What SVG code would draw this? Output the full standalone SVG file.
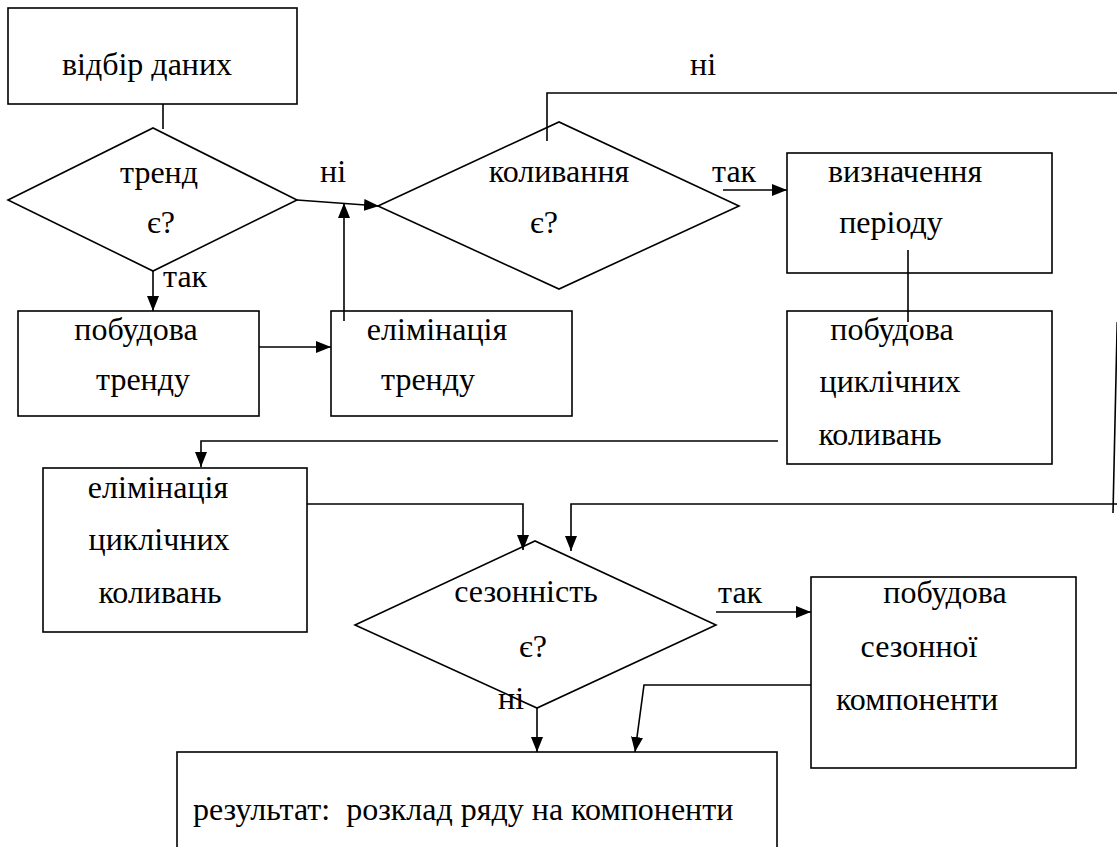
<svg xmlns="http://www.w3.org/2000/svg" width="1117" height="847" viewBox="0 0 1117 847">
<style>
.box{fill:#fff;stroke:#000;stroke-width:1.6}
.ln{fill:none;stroke:#000;stroke-width:1.6}
.c{text-anchor:middle}
</style>
<defs>
<marker id="ah" markerUnits="userSpaceOnUse" markerWidth="16" markerHeight="14" refX="15" refY="7" orient="auto" viewBox="0 0 16 14">
<path d="M0,1 L15,7 L0,13 Z" fill="#000"/>
</marker>
</defs>
<rect width="1117" height="847" fill="#fff"/>
<g font-family="Liberation Serif" font-size="32" fill="#000">
<g id="n1"><rect class="box" x="8" y="8" width="289" height="96"/><text class="c" x="147" y="75">відбір даних</text></g>
<g id="d1"><polygon class="box" points="8,200 153,128 297,200 153,271"/><text class="c" x="159" y="183">тренд</text><text class="c" x="161" y="233">є?</text></g>
<g id="n2"><rect class="box" x="18" y="311" width="241" height="105"/><text class="c" x="136" y="340">побудова</text><text class="c" x="143" y="390">тренду</text></g>
<g id="n3"><rect class="box" x="331" y="311" width="241" height="105"/><text class="c" x="437" y="340">елімінація</text><text class="c" x="428" y="390">тренду</text></g>
<g id="d2"><polygon class="box" points="378,206 559,122 739,206 559,289"/><text class="c" x="559" y="182">коливання</text><text class="c" x="544" y="233">є?</text></g>
<g id="n4"><rect class="box" x="787" y="153" width="265" height="120"/><text class="c" x="905" y="182">визначення</text><text class="c" x="891" y="233">періоду</text></g>
<g id="n5"><rect class="box" x="787" y="311" width="265" height="153"/><text class="c" x="892" y="340">побудова</text><text class="c" x="890" y="392">циклічних</text><text class="c" x="880" y="445">коливань</text></g>
<g id="n6"><rect class="box" x="43" y="468" width="264" height="164"/><text class="c" x="158" y="498">елімінація</text><text class="c" x="159" y="550">циклічних</text><text class="c" x="160" y="603">коливань</text></g>
<g id="d3"><polygon class="box" points="355,625 535,541 716,625 537,708"/><text class="c" x="526" y="602">сезонність</text><text class="c" x="533" y="657">є?</text></g>
<g id="n7"><rect class="box" x="811" y="577" width="265" height="191"/><text class="c" x="945" y="603">побудова</text><text class="c" x="919" y="657">сезонної</text><text class="c" x="917" y="710">компоненти</text></g>
<g id="n8"><rect class="box" x="177" y="752" width="600" height="120"/><text x="193" y="820" xml:space="preserve">результат:  розклад ряду на компоненти</text></g>
<g id="connectors">
<line class="ln" x1="163" y1="104" x2="163" y2="129"/>
<line class="ln" x1="153" y1="271" x2="153" y2="311" marker-end="url(#ah)"/>
<line class="ln" x1="259" y1="347" x2="331" y2="347" marker-end="url(#ah)"/>
<line class="ln" x1="344" y1="321" x2="344" y2="203" marker-end="url(#ah)"/>
<line class="ln" x1="297" y1="200" x2="379" y2="206" marker-end="url(#ah)"/>
<polyline class="ln" points="547,141 547,93 1117,93"/>
<line class="ln" x1="723" y1="190" x2="787" y2="190" marker-end="url(#ah)"/>
<line class="ln" x1="908" y1="250" x2="908" y2="322"/>
<polyline class="ln" points="778,441 201,441 201,467" marker-end="url(#ah)"/>
<polyline class="ln" points="307,504 523,504 523,550" marker-end="url(#ah)"/>
<line class="ln" x1="1117.2" y1="322" x2="1113" y2="513"/>
<polyline class="ln" points="1117,504 571,504 571,551" marker-end="url(#ah)"/>
<line class="ln" x1="716" y1="612" x2="811" y2="612" marker-end="url(#ah)"/>
<line class="ln" x1="537" y1="708" x2="537" y2="752" marker-end="url(#ah)"/>
<polyline class="ln" points="811,685 644,685 635,752" marker-end="url(#ah)"/>
</g>
<g id="labels">
<text x="320" y="182">ні</text>
<text x="163" y="287">так</text>
<text x="690" y="75">ні</text>
<text x="712" y="182">так</text>
<text x="718" y="603">так</text>
<text x="498" y="709">ні</text>
</g>
</g>
</svg>
